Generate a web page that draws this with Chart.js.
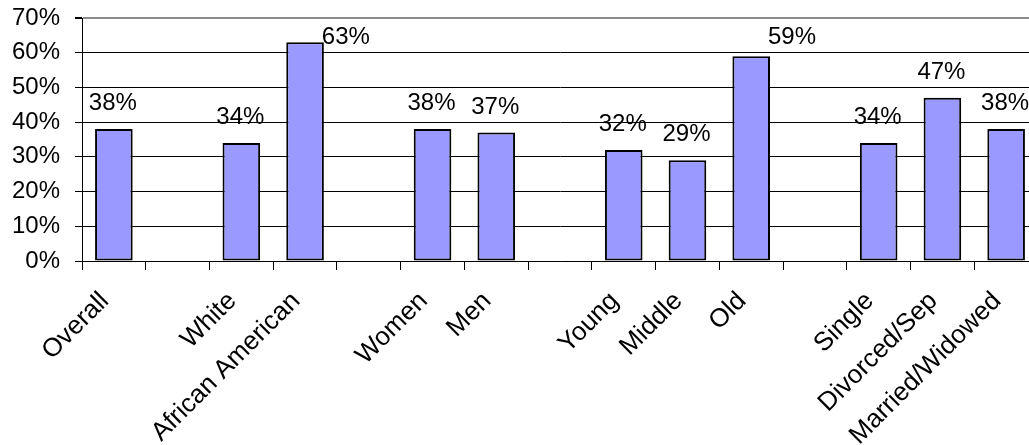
<!doctype html>
<html lang="en">
    <head>
        <meta charset="UTF-8" />
        <title>Share by group</title>
        <script src="https://cdn.jsdelivr.net/npm/chart.js"></script>
        <style>
            html, body { margin: 0; padding: 0; overflow: hidden; background: #fff; }
        </style>
    </head>
    <body>
        <canvas id="myChart" width="1040" height="445"></canvas>
        <script>
            // blank entries are the gaps between the groups
            var categories = ["Overall", "", "White", "African American", "", "Women", "Men", "", "Young", "Middle", "Old", "", "Single", "Divorced/Sep", "Married/Widowed"];
            var values = [38, null, 34, 63, null, 38, 37, null, 32, 29, 59, null, 34, 47, 38];
            var yTicks = [0, 10, 20, 30, 40, 50, 60, 70];

            var fontFamily = "'Liberation Sans', Arial, sans-serif";

            // percent labels over the bars, pushed right of the bar when they would hit the top
            var barLabels = {
                id: "barLabels",
                afterDatasetsDraw: function (chart) {
                    var ctx = chart.ctx;
                    var area = chart.chartArea;
                    var meta = chart.getDatasetMeta(0);
                    ctx.save();
                    ctx.font = "24px " + fontFamily;
                    ctx.fillStyle = "#000";
                    ctx.textBaseline = "alphabetic";
                    meta.data.forEach(function (bar, i) {
                        var v = values[i];
                        if (v === null) return;
                        var text = v + "%";
                        var y = bar.y - 19;
                        if (y - 17 < area.top + 7) {
                            ctx.textAlign = "left";
                            ctx.fillText(text, bar.x + bar.width / 2 - 2, area.top + 26);
                        } else {
                            ctx.textAlign = "center";
                            ctx.fillText(text, bar.x - 1, y);
                        }
                    });
                    ctx.restore();
                }
            };

            var ctx = document.getElementById("myChart").getContext("2d");
            var chart = new Chart(ctx, {
                type: "bar",
                data: {
                    labels: categories,
                    datasets: [
                        {
                            data: values,
                            backgroundColor: "#9999FF",
                            borderColor: "#000",
                            borderWidth: 2,
                            borderSkipped: false,
                            categoryPercentage: 1,
                            barPercentage: 0.59
                        }
                    ]
                },
                options: {
                    responsive: false,
                    animation: false,
                    layout: { padding: { top: 18, right: 2, left: 0, bottom: 0 } },
                    plugins: {
                        legend: { display: false },
                        tooltip: { enabled: false }
                    },
                    scales: {
                        x: {
                            offset: true,
                            grid: {
                                offset: true,
                                drawOnChartArea: false,
                                tickLength: 9,
                                color: "#000",
                                lineWidth: 1
                            },
                            border: { color: "#000", width: 1 },
                            ticks: {
                                autoSkip: false,
                                minRotation: 45,
                                maxRotation: 45,
                                padding: 16,
                                labelOffset: -9,
                                color: "#000",
                                font: { size: 26, family: fontFamily }
                            },
                            afterFit: function (scale) {
                                scale.height = 184;
                                scale.paddingLeft = 0;
                                scale.paddingRight = 0;
                            }
                        },
                        y: {
                            min: 0,
                            max: 70,
                            afterBuildTicks: function (scale) {
                                scale.ticks = yTicks.map(function (v) { return { value: v }; });
                            },
                            grid: {
                                color: function (c) {
                                    return c.tick && c.tick.value === 70 ? "#8c8c8c" : "#000";
                                },
                                lineWidth: function (c) {
                                    return c.tick && c.tick.value === 70 ? 2 : 1;
                                },
                                tickColor: "#000",
                                tickLength: 7
                            },
                            border: { color: "#000", width: 1 },
                            ticks: {
                                padding: 15,
                                color: "#000",
                                font: { size: 24, family: fontFamily },
                                callback: function (v) { return v + "%"; }
                            },
                            afterFit: function (scale) {
                                scale.width = 82;
                                scale.paddingTop = 0;
                                scale.paddingBottom = 0;
                            }
                        }
                    }
                },
                plugins: [barLabels]
            });
        </script>
    </body>
</html>
